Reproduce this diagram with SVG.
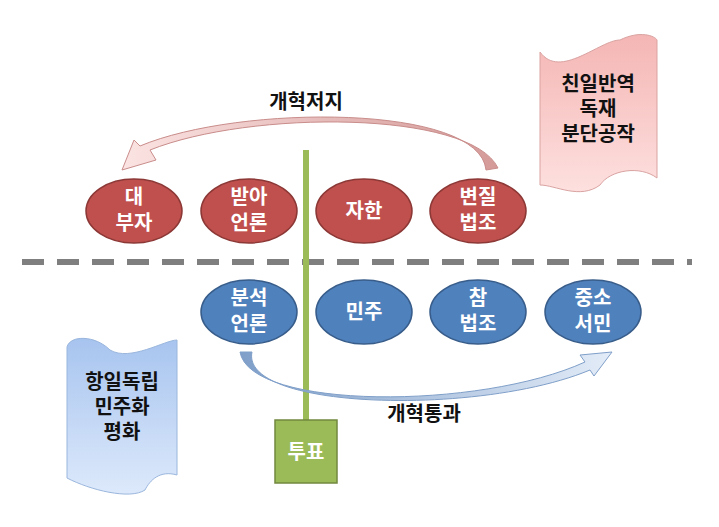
<svg xmlns="http://www.w3.org/2000/svg" width="719" height="527" viewBox="0 0 719 527">
<defs>
<style>
text{font-family:"Noto Sans CJK KR","Noto Sans",sans-serif;font-weight:bold;text-anchor:middle}
.w{fill:#fff;font-size:20px}
.k{fill:#111;font-size:20px}
.r{fill:#c0504d;stroke:#8c3836;stroke-width:1.5}
.b{fill:#4f81bd;stroke:#385d8a;stroke-width:1.5}
</style>
<linearGradient id="gr" x1="0" y1="0" x2="0" y2="1"><stop offset="0" stop-color="#f4b6b4"/><stop offset="1" stop-color="#fde0df"/></linearGradient>
<linearGradient id="gb" x1="0" y1="0" x2="0" y2="1"><stop offset="0" stop-color="#a7c4ef"/><stop offset="1" stop-color="#dde9fb"/></linearGradient>
<linearGradient id="ar" x1="0" y1="0" x2="1" y2="0"><stop offset="0" stop-color="#fbe4e3"/><stop offset="1" stop-color="#d49a98"/></linearGradient>
<linearGradient id="ab" x1="0" y1="0" x2="1" y2="0"><stop offset="0" stop-color="#7f9fc9"/><stop offset="1" stop-color="#e3ecf8"/></linearGradient>
</defs>
<g id="connectors">
<line x1="22" y1="262" x2="692" y2="262" stroke="#7f7f7f" stroke-width="6" stroke-dasharray="22 13"/>
<line x1="306" y1="150" x2="306" y2="421" stroke="#9bbb59" stroke-width="6"/>
<path d="M498,168 C470,110 250,110 150,150 L156,160 L122,170 L134,140 L140,146 C240,104 480,104 486,170 Z" fill="url(#ar)" stroke="#c98d8b" stroke-width="1"/>
<path d="M240,352 C250,410 480,410 585,362 L580,355 L612,352 L594,376 L590,370 C480,416 240,410 252,352 Z" fill="url(#ab)" stroke="#7f9fc9" stroke-width="1"/>
</g>
<g id="label-jeoji"><text class="k" x="306" y="109">개혁저지</text></g>
<g id="label-tonggwa"><text class="k" x="424" y="421">개혁통과</text></g>
<g id="scroll-red">
<path d="M540,52 C560,80 600,40 620,40 C640,30 655,36 657,40 L657,178 C640,165 610,170 600,185 C580,200 555,185 540,185 Z" fill="url(#gr)" stroke="#d9a3a1" stroke-width="1"/>
<text class="k" x="598" y="91">친일반역</text><text class="k" x="598" y="116">독재</text><text class="k" x="598" y="141">분단공작</text>
</g>
<g id="scroll-blue">
<path d="M67,347 C70,335 95,335 110,350 C130,362 165,340 177,340 L177,475 C160,470 150,480 145,490 C130,500 90,490 67,478 Z" fill="url(#gb)" stroke="#9ab6dd" stroke-width="1"/>
<text class="k" x="122" y="389">항일독립</text><text class="k" x="122" y="414">민주화</text><text class="k" x="122" y="439">평화</text>
</g>
<g id="n1"><ellipse class="r" cx="134" cy="211" rx="48" ry="32"/><text class="w" x="134" y="204">대</text><text class="w" x="134" y="230">부자</text></g>
<g id="n2"><ellipse class="r" cx="249" cy="211" rx="48" ry="32"/><text class="w" x="249" y="204">받아</text><text class="w" x="249" y="230">언론</text></g>
<g id="n3"><ellipse class="r" cx="364" cy="211" rx="48" ry="32"/><text class="w" x="364" y="218">자한</text></g>
<g id="n4"><ellipse class="r" cx="478" cy="211" rx="48" ry="32"/><text class="w" x="478" y="204">변질</text><text class="w" x="478" y="230">법조</text></g>
<g id="n5"><ellipse class="b" cx="249" cy="312" rx="48" ry="32"/><text class="w" x="249" y="305">분석</text><text class="w" x="249" y="331">언론</text></g>
<g id="n6"><ellipse class="b" cx="364" cy="312" rx="48" ry="32"/><text class="w" x="364" y="319">민주</text></g>
<g id="n7"><ellipse class="b" cx="478" cy="312" rx="48" ry="32"/><text class="w" x="478" y="305">참</text><text class="w" x="478" y="331">법조</text></g>
<g id="n8"><ellipse class="b" cx="593" cy="312" rx="48" ry="32"/><text class="w" x="593" y="305">중소</text><text class="w" x="593" y="331">서민</text></g>
<g id="vote"><rect x="275" y="420" width="62" height="63" fill="#9bbb59" stroke="#71893f" stroke-width="1.5"/><text class="w" x="306" y="459">투표</text></g>
</svg>
